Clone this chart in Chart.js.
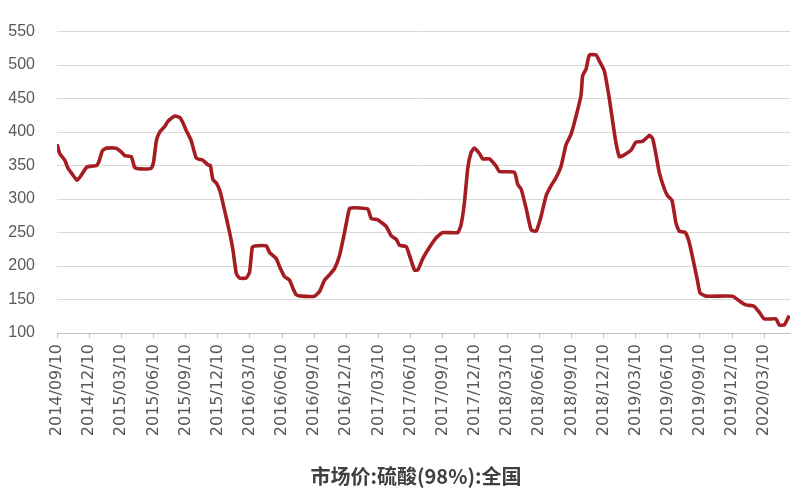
<!DOCTYPE html>
<html>
<head>
<meta charset="utf-8">
<script src="https://cdn.jsdelivr.net/npm/chart.js@4/dist/chart.umd.min.js"></script>
<style>
html,body{margin:0;padding:0;background:#fff;}
#wrap{width:800px;height:500px;position:relative;}
</style>
</head>
<body>
<div id="wrap"><canvas id="c" width="800" height="500"></canvas></div>
<script>
// Quarter tick labels (category labels of the x axis)
const tickLabels = [
  "2014/09/10","2014/12/10","2015/03/10","2015/06/10","2015/09/10","2015/12/10",
  "2016/03/10","2016/06/10","2016/09/10","2016/12/10","2017/03/10","2017/06/10",
  "2017/09/10","2017/12/10","2018/03/10","2018/06/10","2018/09/10","2018/12/10",
  "2019/03/10","2019/06/10","2019/09/10","2019/12/10","2020/03/10"
];
// Time of each reading, in months after 2014/09/10
const months = [
  0,0.25,0.72,1.03,1.34,1.87,2.28,2.80,3.67,3.92,4.23,4.61,5.54,6.01,6.31,6.94,7.25,7.71,
  8.80,9.02,9.27,9.58,10.04,10.35,10.98,11.44,11.75,12.07,12.53,13.0,13.62,14.08,14.31,
  14.55,14.87,15.24,15.64,16.11,16.41,16.73,17.04,17.66,17.97,18.22,18.44,19.53,19.84,
  20.46,20.77,21.24,21.70,22.01,22.33,22.79,24.03,24.50,24.97,25.43,25.90,26.37,26.83,
  27.30,27.76,29.00,29.32,29.94,30.72,31.19,31.65,31.96,32.58,32.89,33.36,33.67,34.13,
  34.76,35.38,36.0,37.40,37.71,38.02,38.33,38.65,38.95,39.42,39.73,40.35,40.98,41.28,
  42.68,42.99,43.31,43.78,44.24,44.71,45.17,45.64,46.11,46.57,47.04,47.50,47.97,48.44,
  48.90,49.05,49.37,49.68,50.30,50.61,51.08,51.54,51.85,52.17,52.48,52.94,53.57,54.03,
  54.65,55.28,55.59,55.90,56.21,56.68,56.98,57.39,57.76,58.07,58.63,59.00,59.47,59.78,
  60.00,60.56,63.04,63.67,64.29,65.04,65.53,66.0,67.09,67.40,67.87,68.33
];
// 市场价 硫酸(98%) 全国
const prices = [
  382,368,358,346,339,328,336,348,350,356,372,376,376,370,365,363,347,345,
  346,356,387,400,408,416,424,422,414,402,387,361,358,351,350,
  329,324,310,283,250,225,189,182,182,191,228,230,230,220,
  211,199,184,179,167,157,155,155,162,179,187,196,216,250,
  286,287,285,271,269,259,245,240,231,229,216,194,194,211,
  228,242,250,250,262,295,346,370,376,368,360,360,349,341,
  340,322,315,286,254,252,274,305,320,332,349,381,397,424,
  455,484,494,515,515,506,491,450,416,383,363,366,373,385,
  386,395,390,366,339,315,305,298,264,252,250,235,201,177,
  160,155,155,148,142,140,131,121,121,112,112,126
];
const yTicks = [100,150,200,250,300,350,400,450,500,550];
const titleText = "市场价:硫酸(98%):全国";

const bottomTitle = {
  id: 'bottomTitle',
  afterDraw(chart) {
    const c = chart.ctx;
    c.save();
    c.font = 'bold 20px "Noto Sans CJK SC", sans-serif';
    c.fillStyle = '#404040';
    c.textAlign = 'center';
    c.textBaseline = 'middle';
    c.fillText(titleText, 416, 476);
    c.restore();
  }
};

const ctx = document.getElementById('c').getContext('2d');
new Chart(ctx, {
  type: 'line',
  data: {
    datasets: [{
      data: months.map((m, i) => ({x: m, y: prices[i]})),
      borderColor: '#A51C22',
      borderWidth: 3.6,
      pointRadius: 0,
      tension: 0.15,
      fill: false
    }]
  },
  plugins: [bottomTitle],
  options: {
    responsive: false,
    animation: false,
    layout: {padding: {top: 23, right: 10, bottom: 0, left: 0}},
    plugins: {
      legend: {display: false},
      tooltip: {enabled: false},
      title: {display: false}
    },
    scales: {
      x: {
        type: 'linear',
        min: 0,
        max: 68.4,
        afterFit: s => { s.height = 167; },
        afterBuildTicks: s => { s.ticks = tickLabels.map((l, i) => ({value: i * 3})); },
        ticks: {
          autoSkip: false,
          minRotation: 90,
          maxRotation: 90,
          padding: 6,
          color: '#595959',
          font: {family: '"DejaVu Sans", sans-serif', size: 16},
          callback: (v) => tickLabels[Math.round(v / 3)]
        },
        grid: {drawOnChartArea: false, drawTicks: true, tickLength: 5, color: '#bfbfbf'},
        border: {display: true, color: '#bfbfbf', width: 1}
      },
      y: {
        min: 100,
        max: 550,
        afterFit: s => { s.width = 57; },
        afterBuildTicks: s => { s.ticks = yTicks.map(v => ({value: v})); },
        ticks: {
          padding: 22,
          color: '#595959',
          font: {family: '"Liberation Sans", Arial, sans-serif', size: 16}
        },
        grid: {drawTicks: false, color: '#d9d9d9', lineWidth: 1},
        border: {display: false}
      }
    }
  }
});
</script>
</body>
</html>
